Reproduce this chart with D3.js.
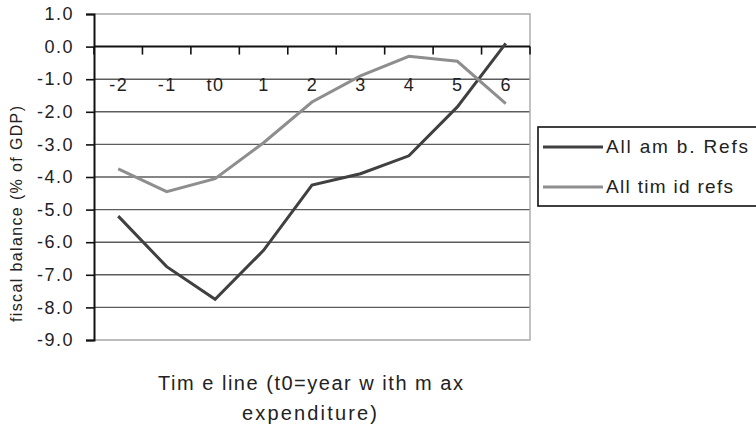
<!DOCTYPE html>
<html>
<head>
<meta charset="utf-8">
<script src="https://cdn.jsdelivr.net/npm/d3@7"></script>
<style>
  html, body { margin: 0; padding: 0; background: #fff; }
  svg { display: block; font-family: "Liberation Sans", Arial, sans-serif; }
  .lbl { font-size: 18px; letter-spacing: 1.5px; fill: #222; }
</style>
</head>
<body>
<svg id="chart" width="756" height="426"></svg>
<script>
// Periods around the year of maximum expenditure
const categories = ["-2", "-1", "t0", "1", "2", "3", "4", "5", "6"];
// Fiscal balance, % of GDP
const ambitiousRefs = [-5.2, -6.75, -7.75, -6.25, -4.25, -3.9, -3.35, -1.85, 0.1];
const timidRefs = [-3.75, -4.45, -4.05, -2.95, -1.7, -0.9, -0.3, -0.45, -1.75];
const yTicks = [1, 0, -1, -2, -3, -4, -5, -6, -7, -8, -9];

const seriesNames = ["All am b. Refs", "All tim id refs"];
const seriesColors = ["#404040", "#8e8e8e"];
const seriesData = [ambitiousRefs, timidRefs];

const svg = d3.select("#chart");
const plot = { left: 94, right: 530, top: 14, bottom: 340 };

const x = d3.scaleBand().domain(categories).range([plot.left, plot.right]).padding(0);
const y = d3.scaleLinear().domain([-9, 1]).range([plot.bottom, plot.top]);

// horizontal gridlines
svg.append("g")
  .selectAll("line")
  .data(yTicks.filter(v => v !== 1 && v !== -9 && v !== 0))
  .join("line")
  .attr("x1", plot.left).attr("x2", plot.right)
  .attr("y1", d => y(d)).attr("y2", d => y(d))
  .attr("stroke", "#5c5c5c").attr("stroke-width", 1.4);

// plot frame (top, right, bottom)
svg.append("path")
  .attr("d", `M${plot.left},${y(1)}H${plot.right}V${y(-9)}H${plot.left}`)
  .attr("fill", "none").attr("stroke", "#a8a8a8").attr("stroke-width", 1.4);

// value axis
const yAxis = svg.append("g")
  .attr("transform", `translate(${plot.left},0)`)
  .call(d3.axisLeft(y).tickValues(yTicks).tickSize(8).tickPadding(12)
    .tickFormat(d => d.toFixed(1)));
yAxis.attr("font-size", null).attr("font-family", null);
yAxis.select(".domain").attr("stroke", "#111").attr("stroke-width", 2);
yAxis.selectAll(".tick line").attr("stroke", "#111").attr("stroke-width", 1.6);
yAxis.selectAll(".tick text").attr("fill", null).classed("lbl", true);

// category axis drawn through zero
const y0 = y(0);
const bounds = categories.map(c => x(c)).concat([plot.right]);
svg.append("line")
  .attr("x1", plot.left).attr("x2", plot.right)
  .attr("y1", y0).attr("y2", y0)
  .attr("stroke", "#111").attr("stroke-width", 2);
svg.append("g").selectAll("line")
  .data(bounds)
  .join("line")
  .attr("x1", d => d).attr("x2", d => d)
  .attr("y1", y0).attr("y2", y0 + 8)
  .attr("stroke", "#111").attr("stroke-width", 1.6);
svg.append("g").selectAll("text")
  .data(categories)
  .join("text")
  .attr("class", "lbl")
  .attr("x", d => x(d) + x.bandwidth() / 2 + 0.5)
  .attr("y", y0 + 44)
  .attr("text-anchor", "middle")
  .text(d => d);

// series lines
const line = d3.line()
  .x((d, i) => x(categories[i]) + x.bandwidth() / 2)
  .y(d => y(d));
seriesData.forEach((vals, k) => {
  svg.append("path")
    .datum(vals)
    .attr("d", line)
    .attr("fill", "none")
    .attr("stroke", seriesColors[k])
    .attr("stroke-width", 3)
    .attr("stroke-linejoin", "miter");
});

// axis titles
svg.append("text")
  .attr("transform", `translate(22,214) rotate(-90)`)
  .attr("text-anchor", "middle")
  .attr("font-size", 16).attr("fill", "#222")
  .attr("textLength", 216).attr("lengthAdjust", "spacing")
  .text("fiscal balance (% of GDP)");

const xTitle = svg.append("g")
  .attr("font-size", 20).attr("fill", "#222");
xTitle.append("text")
  .attr("x", 158).attr("y", 390)
  .attr("textLength", 305).attr("lengthAdjust", "spacing")
  .text("Tim e line (t0=year w ith m ax");
xTitle.append("text")
  .attr("x", 242).attr("y", 420)
  .attr("textLength", 135).attr("lengthAdjust", "spacing")
  .text("expenditure)");

// legend
const legend = svg.append("g");
legend.append("rect")
  .attr("x", 538).attr("y", 127).attr("width", 240).attr("height", 79)
  .attr("fill", "#fff").attr("stroke", "#111").attr("stroke-width", 1.6);
const legendWidths = [142, 127];
seriesNames.forEach((name, k) => {
  const ly = 147 + k * 40;
  legend.append("line")
    .attr("x1", 543).attr("x2", 603).attr("y1", ly).attr("y2", ly)
    .attr("stroke", seriesColors[k]).attr("stroke-width", 3);
  legend.append("text")
    .attr("x", 606).attr("y", ly + 6)
    .attr("font-size", 19).attr("fill", "#222")
    .attr("textLength", legendWidths[k]).attr("lengthAdjust", "spacing")
    .text(name);
});
</script>
</body>
</html>
